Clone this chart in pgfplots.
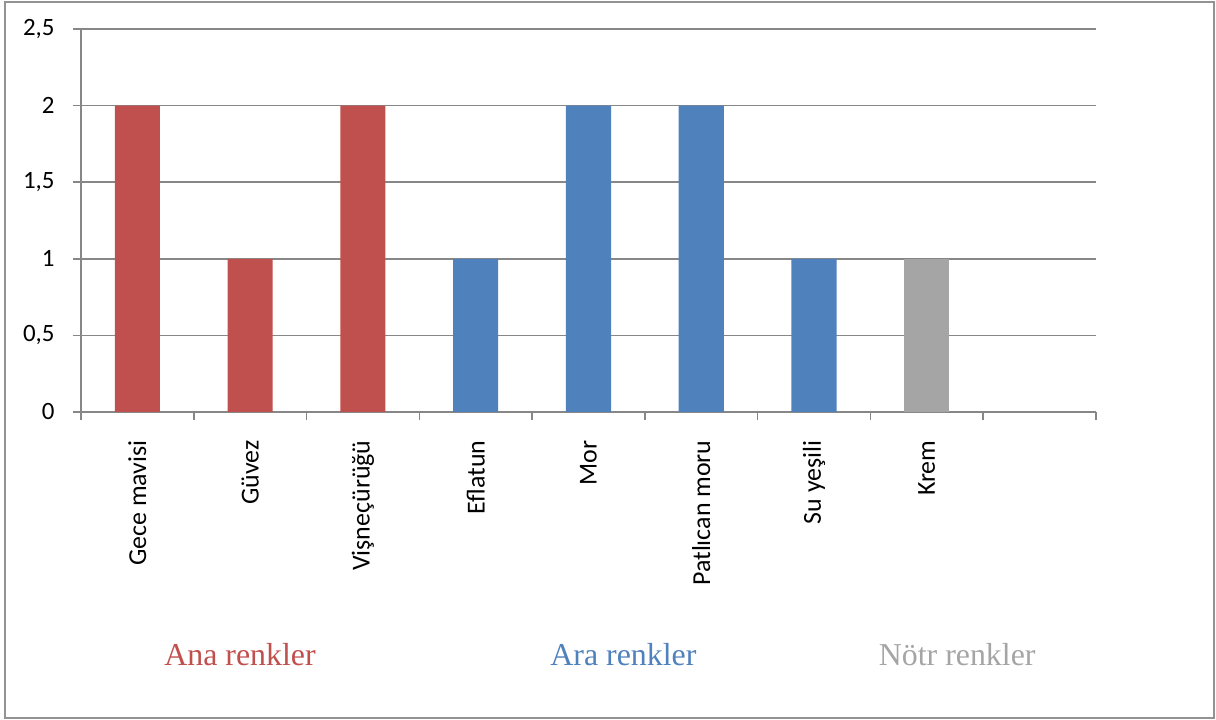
\documentclass[border=0pt]{standalone}
\usepackage{pgfplots}
\pgfplotsset{compat=1.18}
\usepackage{fontspec}
\setmainfont{Carlito}
\newfontfamily\timesfont{Liberation Serif}
\definecolor{cred}{HTML}{C0504D}
\definecolor{cblue}{HTML}{4F81BD}
\definecolor{cgray}{HTML}{A5A5A5}
\definecolor{gridc}{HTML}{878787}
\begin{document}
\begin{tikzpicture}
\useasboundingbox (0bp,0bp) rectangle (1216bp,720bp);
\draw[color=gridc!90, line width=2bp] (5bp,2bp) rectangle (1214bp,718bp);
\begin{axis}[
  at={(81bp,308bp)}, anchor=south west,
  width=1015bp, height=383bp, scale only axis,
  xmin=-0.5, xmax=8.5, ymin=0, ymax=2.5,
  axis lines*=left,
  axis line style={color=gridc, line width=1.5bp, -},
  ytick={0,0.5,1,1.5,2,2.5},
  ymajorgrids,
  grid style={color=gridc, line width=1.5bp},
  tick style={color=gridc, line width=1.5bp},
  tick align=outside,
  major tick length=8bp,
  xtick={-0.5,0.5,1.5,2.5,3.5,4.5,5.5,6.5,7.5,8.5},
  xticklabels={},
  extra x ticks={0,1,2,3,4,5,6,7},
  extra x tick labels={Gece mavisi,Güvez,Vişneçürüğü,Eflatun,Mor,Patlıcan moru,Su yeşili,Krem},
  extra x tick style={major tick length=0pt, tick style={draw=none},
    xticklabel style={rotate=90, anchor=east, font=\fontsize{26}{30}\selectfont},
    xticklabel shift=25bp},
  yticklabel style={font=\fontsize{25}{30}\selectfont, xshift=-15bp},
  /pgf/number format/assume math mode=true,
  /pgf/number format/use comma,
  /pgf/number format/fixed,
  bar width=0.4,
  ybar, bar shift=0pt,
  clip=false,
]
\addplot[fill=cred, draw=none] coordinates {(0,2) (1,1) (2,2)};
\addplot[fill=cblue, draw=none] coordinates {(3,1) (4,2) (5,2) (6,1)};
\addplot[fill=cgray, draw=none] coordinates {(7,1)};
\node[font=\timesfont\fontsize{32}{36}\selectfont, text=cred] at (axis cs:0.91,-1.585) {Ana renkler};
\node[font=\timesfont\fontsize{32}{36}\selectfont, text=cblue] at (axis cs:4.31,-1.585) {Ara renkler};
\node[font=\timesfont\fontsize{32}{36}\selectfont, text=cgray] at (axis cs:7.27,-1.585) {Nötr renkler};
\end{axis}
\end{tikzpicture}
\end{document}
